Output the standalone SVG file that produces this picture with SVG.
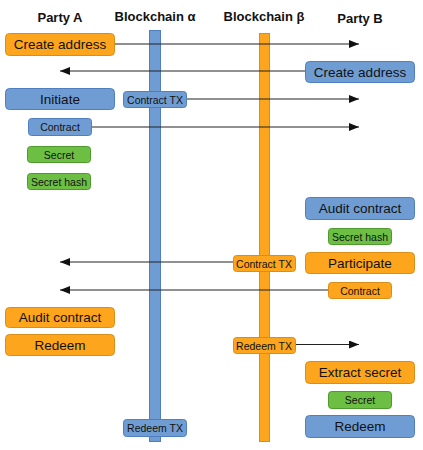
<svg xmlns="http://www.w3.org/2000/svg" width="423" height="450" viewBox="0 0 423 450">
<defs>
<marker id="ah" viewBox="0 0 10 8" refX="10" refY="4" markerWidth="10" markerHeight="8" markerUnits="userSpaceOnUse" orient="auto">
<path d="M0,0 L10,4 L0,8 Z" fill="#111"/>
</marker>
</defs>
<style>
text{font-family:"Liberation Sans",Arial,sans-serif;fill:#111;text-anchor:middle}
.title{font-size:13px;font-weight:bold}
.big{font-size:13.5px}
.small{font-size:10.5px}
.o{fill:#FCA51D;stroke:#D98E1A;stroke-width:1}
.b{fill:#6F9DD3;stroke:#4F7FBE;stroke-width:1}
.g{fill:#6DBF44;stroke:#4E9A2E;stroke-width:1}
.conn line{stroke:#222;stroke-width:1;marker-end:url(#ah)}
</style>
<rect width="423" height="450" fill="#fff"/>
<g id="titles">
<text class="title" x="60" y="22">Party A</text>
<text class="title" x="155" y="21">Blockchain α</text>
<text class="title" x="264" y="21">Blockchain β</text>
<text class="title" x="360" y="23">Party B</text>
</g>
<g id="chain-alpha"><rect class="b" x="149.5" y="30.5" width="11" height="411"/></g>
<g id="chain-beta"><rect class="o" x="259.5" y="33.5" width="10" height="408"/></g>
<g class="conn" id="connectors">
<line x1="114" y1="44" x2="359" y2="44"/>
<line x1="305" y1="71" x2="60" y2="71"/>
<line x1="187" y1="99" x2="359" y2="99"/>
<line x1="91" y1="127" x2="359" y2="127"/>
<line x1="233" y1="262" x2="60" y2="262"/>
<line x1="328" y1="290" x2="60" y2="290"/>
<line x1="295" y1="344.5" x2="359" y2="344.5"/>
</g>
<g id="a-create"><rect class="o" x="5.5" y="33.5" width="109" height="22" rx="4"/><text class="big" x="60" y="49">Create address</text></g>
<g id="b-create"><rect class="b" x="305.5" y="61.5" width="109" height="21" rx="4"/><text class="big" x="360" y="76.5">Create address</text></g>
<g id="a-initiate"><rect class="b" x="5.5" y="88.5" width="109" height="21" rx="4"/><text class="big" x="60" y="104">Initiate</text></g>
<g id="alpha-contract-tx"><rect class="b" x="123.5" y="91.5" width="63" height="16" rx="3"/><text class="small" x="155" y="103.5">Contract TX</text></g>
<g id="a-contract"><rect class="b" x="28.5" y="118.5" width="63" height="17" rx="3"/><text class="small" x="60" y="131">Contract</text></g>
<g id="a-secret"><rect class="g" x="27.5" y="146.5" width="63" height="16" rx="3"/><text class="small" x="59" y="158.5">Secret</text></g>
<g id="a-secret-hash"><rect class="g" x="27.5" y="173.5" width="63" height="16" rx="3"/><text class="small" x="59" y="185.5">Secret hash</text></g>
<g id="b-audit"><rect class="b" x="305.5" y="197.5" width="109" height="22" rx="4"/><text class="big" x="360" y="213">Audit contract</text></g>
<g id="b-secret-hash"><rect class="g" x="328.5" y="228.5" width="63" height="16" rx="3"/><text class="small" x="360" y="240.5">Secret hash</text></g>
<g id="b-participate"><rect class="o" x="305.5" y="252.5" width="109" height="21" rx="4"/><text class="big" x="360" y="268">Participate</text></g>
<g id="beta-contract-tx"><rect class="o" x="233.5" y="255.5" width="62" height="16" rx="3"/><text class="small" x="264" y="267.5">Contract TX</text></g>
<g id="b-contract"><rect class="o" x="328.5" y="282.5" width="63" height="16" rx="3"/><text class="small" x="360" y="294.5">Contract</text></g>
<g id="a-audit"><rect class="o" x="5.5" y="307.5" width="109" height="20" rx="4"/><text class="big" x="60" y="322">Audit contract</text></g>
<g id="a-redeem"><rect class="o" x="5.5" y="334.5" width="109" height="21" rx="4"/><text class="big" x="60" y="349.5">Redeem</text></g>
<g id="beta-redeem-tx"><rect class="o" x="233.5" y="337.5" width="62" height="16" rx="3"/><text class="small" x="264" y="349.5">Redeem TX</text></g>
<g id="b-extract"><rect class="o" x="305.5" y="361.5" width="109" height="22" rx="4"/><text class="big" x="360" y="377">Extract secret</text></g>
<g id="b-secret"><rect class="g" x="328.5" y="391.5" width="63" height="17" rx="3"/><text class="small" x="360" y="404">Secret</text></g>
<g id="b-redeem"><rect class="b" x="305.5" y="415.5" width="109" height="22" rx="4"/><text class="big" x="360" y="431">Redeem</text></g>
<g id="alpha-redeem-tx"><rect class="b" x="123.5" y="419.5" width="63" height="17" rx="3"/><text class="small" x="155" y="432">Redeem TX</text></g>
</svg>
